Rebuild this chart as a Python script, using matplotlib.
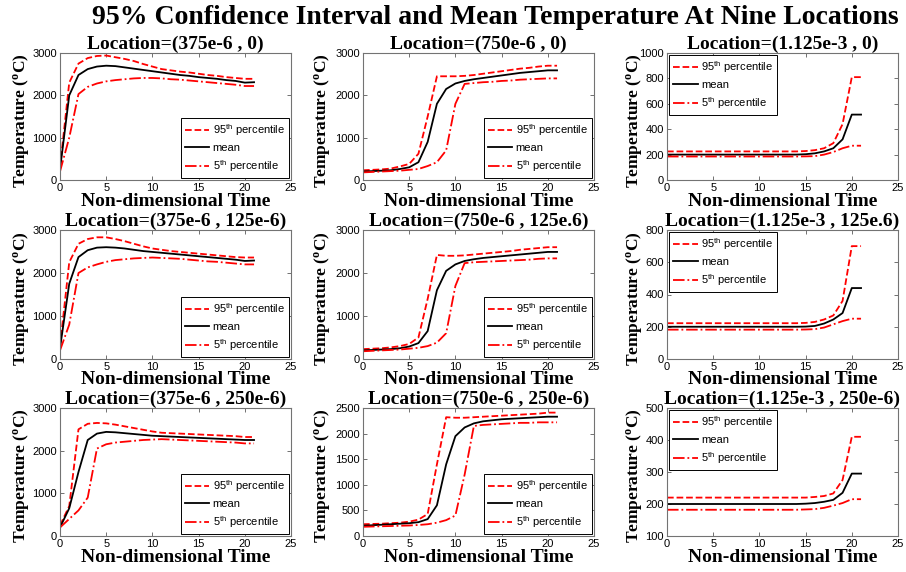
import matplotlib
matplotlib.use("Agg")
import matplotlib.pyplot as plt
import numpy as np

plt.rcParams['mathtext.fontset'] = 'custom'
plt.rcParams['mathtext.rm'] = 'Liberation Sans'
plt.rcParams['mathtext.it'] = 'Liberation Sans:italic'
plt.rcParams['mathtext.bf'] = 'Liberation Serif:bold'

time = list(range(22))

titles = [
    "Location=(375e-6 , 0)", "Location=(750e-6 , 0)", "Location=(1.125e-3 , 0)",
    "Location=(375e-6 , 125e-6)", "Location=(750e-6 , 125e.6)", "Location=(1.125e-3 , 125e.6)",
    "Location=(375e-6 , 250e-6)", "Location=(750e-6 , 250e-6)", "Location=(1.125e-3 , 250e-6)",
]

# Row 1
p95_a = [300, 2300, 2750, 2880, 2930, 2940, 2900, 2860, 2810, 2740, 2680, 2620, 2590, 2560, 2540, 2510, 2480, 2460, 2430, 2410, 2390, 2390]
mean_a = [250, 2000, 2480, 2620, 2680, 2700, 2690, 2660, 2630, 2600, 2570, 2540, 2510, 2480, 2460, 2430, 2410, 2390, 2360, 2340, 2300, 2310]
p5_a = [200, 1000, 2030, 2200, 2280, 2330, 2360, 2380, 2400, 2410, 2410, 2400, 2380, 2370, 2350, 2330, 2310, 2290, 2270, 2250, 2220, 2220]

p95_b = [230, 240, 250, 270, 320, 380, 620, 1500, 2450, 2450, 2450, 2460, 2480, 2510, 2540, 2570, 2600, 2630, 2650, 2680, 2700, 2700]
mean_b = [200, 210, 220, 230, 260, 300, 420, 900, 1800, 2150, 2280, 2340, 2380, 2410, 2440, 2470, 2500, 2530, 2550, 2570, 2590, 2590]
p5_b = [180, 190, 200, 210, 220, 240, 260, 330, 420, 700, 1800, 2270, 2290, 2310, 2320, 2340, 2350, 2370, 2380, 2390, 2400, 2400]

p95_c = [225, 225, 225, 225, 225, 225, 225, 225, 225, 225, 225, 225, 225, 225, 225, 228, 235, 250, 290, 440, 810, 810]
mean_c = [200, 200, 200, 200, 200, 200, 200, 200, 200, 200, 200, 200, 200, 200, 200, 203, 210, 225, 250, 320, 515, 515]
p5_c = [185, 185, 185, 185, 185, 185, 185, 185, 185, 185, 185, 185, 185, 185, 185, 186, 188, 200, 220, 250, 270, 270]

# Row 2
p95_d = [300, 2250, 2680, 2790, 2830, 2830, 2790, 2740, 2680, 2620, 2570, 2540, 2510, 2490, 2470, 2450, 2430, 2410, 2390, 2370, 2360, 2360]
mean_d = [250, 1750, 2370, 2530, 2590, 2600, 2590, 2570, 2540, 2510, 2490, 2470, 2450, 2430, 2410, 2390, 2370, 2350, 2330, 2310, 2280, 2290]
p5_d = [200, 800, 2000, 2130, 2200, 2260, 2300, 2320, 2340, 2350, 2360, 2350, 2340, 2330, 2310, 2290, 2270, 2260, 2240, 2220, 2200, 2200]

p95_e = [230, 240, 250, 270, 300, 350, 500, 1400, 2420, 2400, 2400, 2410, 2430, 2450, 2470, 2490, 2510, 2540, 2560, 2580, 2600, 2600]
mean_e = [200, 210, 220, 230, 250, 290, 370, 650, 1600, 2050, 2200, 2280, 2320, 2350, 2370, 2390, 2410, 2430, 2450, 2470, 2490, 2490]
p5_e = [180, 190, 200, 210, 220, 240, 260, 300, 380, 600, 1700, 2230, 2250, 2260, 2270, 2280, 2290, 2300, 2310, 2330, 2340, 2340]

p95_f = [222, 222, 222, 222, 222, 222, 222, 222, 222, 222, 222, 222, 222, 222, 222, 224, 230, 245, 270, 360, 700, 700]
mean_f = [200, 200, 200, 200, 200, 200, 200, 200, 200, 200, 200, 200, 200, 200, 200, 201, 205, 220, 245, 285, 440, 440]
p5_f = [182, 182, 182, 182, 182, 182, 182, 182, 182, 182, 182, 182, 182, 182, 182, 183, 185, 195, 215, 235, 250, 250]

# Row 3
p95_g = [250, 700, 2500, 2630, 2650, 2640, 2610, 2570, 2530, 2490, 2450, 2420, 2410, 2400, 2390, 2380, 2370, 2360, 2350, 2340, 2320, 2320]
mean_g = [200, 650, 1500, 2250, 2400, 2440, 2430, 2410, 2390, 2370, 2350, 2340, 2330, 2320, 2310, 2300, 2290, 2280, 2270, 2260, 2250, 2250]
p5_g = [200, 400, 600, 900, 2050, 2150, 2190, 2210, 2230, 2250, 2260, 2270, 2260, 2250, 2240, 2230, 2220, 2210, 2200, 2190, 2170, 2170]

p95_h = [230, 235, 240, 250, 260, 280, 320, 430, 1400, 2320, 2310, 2310, 2320, 2330, 2340, 2350, 2360, 2370, 2380, 2390, 2410, 2410]
mean_h = [200, 210, 220, 230, 240, 250, 270, 330, 600, 1400, 1950, 2120, 2200, 2240, 2260, 2280, 2290, 2300, 2310, 2320, 2330, 2330]
p5_h = [180, 185, 190, 195, 200, 205, 215, 230, 260, 310, 400, 1200, 2150, 2170, 2180, 2190, 2200, 2210, 2210, 2220, 2220, 2220]

p95_i = [220, 220, 220, 220, 220, 220, 220, 220, 220, 220, 220, 220, 220, 220, 220, 220, 222, 225, 233, 275, 410, 410]
mean_i = [200, 200, 200, 200, 200, 200, 200, 200, 200, 200, 200, 200, 200, 200, 200, 201, 203, 207, 213, 235, 295, 295]
p5_i = [182, 182, 182, 182, 182, 182, 182, 182, 182, 182, 182, 182, 182, 182, 182, 183, 184, 188, 195, 203, 215, 215]

series = [
    (p95_a, mean_a, p5_a), (p95_b, mean_b, p5_b), (p95_c, mean_c, p5_c),
    (p95_d, mean_d, p5_d), (p95_e, mean_e, p5_e), (p95_f, mean_f, p5_f),
    (p95_g, mean_g, p5_g), (p95_h, mean_h, p5_h), (p95_i, mean_i, p5_i),
]

ylims = [(0, 3000), (0, 3000), (0, 1000),
         (0, 3000), (0, 3000), (0, 800),
         (0, 3000), (0, 2500), (100, 500)]
ysteps = [1000, 1000, 200, 1000, 1000, 200, 1000, 500, 100]
xticks = [0, 5, 10, 15, 20, 25]

legend_labels = ["95$^{\\mathrm{th}}$ percentile", "mean", "5$^{\\mathrm{th}}$ percentile"]

W, H = 906, 572
fig = plt.figure(figsize=(W / 100, H / 100), dpi=100)

col_left = [60, 363, 667]
col_w = 231
row_top = [53, 230, 408]
row_bot = [180, 359, 536]
ylab_off = [-38, -40, -32]

serif = 'Liberation Serif'
sans = 'Liberation Sans'

fig.text(495 / W, 1 - 17 / H,
         "95% Confidence Interval and Mean Temperature At Nine Locations",
         ha='center', va='center', fontsize=20, fontweight='bold', family=serif)

for k in range(9):
    r, c = divmod(k, 3)
    l = col_left[c]
    t = row_top[r]
    b = row_bot[r]
    h = b - t
    ax = fig.add_axes([l / W, 1 - b / H, col_w / W, h / H])
    p95, mean, p5 = series[k]
    ax.plot(time, p95, color='#ff0000', ls='--', lw=1.3, label=legend_labels[0])
    ax.plot(time, mean, color='black', ls='-', lw=1.3, label=legend_labels[1])
    ax.plot(time, p5, color='#ff0000', ls='-.', lw=1.3, label=legend_labels[2])
    ax.set_xlim(0, 25)
    ax.set_ylim(*ylims[k])
    ax.set_xticks(xticks)
    ax.set_yticks(np.arange(ylims[k][0], ylims[k][1] + 1, ysteps[k]))
    ax.tick_params(direction='in', top=True, right=True, length=3, width=0.6,
                   labelsize=8, pad=2.2, color='0.35')
    for lab in ax.get_xticklabels() + ax.get_yticklabels():
        lab.set_family(sans)
    for sp in ax.spines.values():
        sp.set_color('0.45')
        sp.set_linewidth(0.8)
    ax.text(0.5, 1 + 9 / h, titles[k], transform=ax.transAxes, ha='center',
            va='center', fontsize=14, fontweight='bold', family=serif)
    ax.set_xlabel("Non-dimensional Time", fontsize=14, fontweight='bold', family=serif)
    ax.xaxis.set_label_coords(0.5, -21 / h)
    ax.xaxis.label.set_verticalalignment('center')
    ax.set_ylabel("Temperature ($^{\\mathbf{o}}$C)", fontsize=12.5, fontweight='bold', family=serif)
    ax.yaxis.set_label_coords(ylab_off[c] / col_w, 0.47)
    ax.yaxis.label.set_verticalalignment('center')
    loc = 'upper left' if c == 2 else 'lower right'
    leg = ax.legend(loc=loc, fancybox=False, edgecolor='black', framealpha=1,
                    prop={'family': sans, 'size': 8}, borderaxespad=0.15,
                    handletextpad=0.3, labelspacing=0.45, borderpad=0.4,
                    handlelength=2.2)
    leg.get_frame().set_linewidth(0.7)

fig.savefig("out.png", dpi=100)
